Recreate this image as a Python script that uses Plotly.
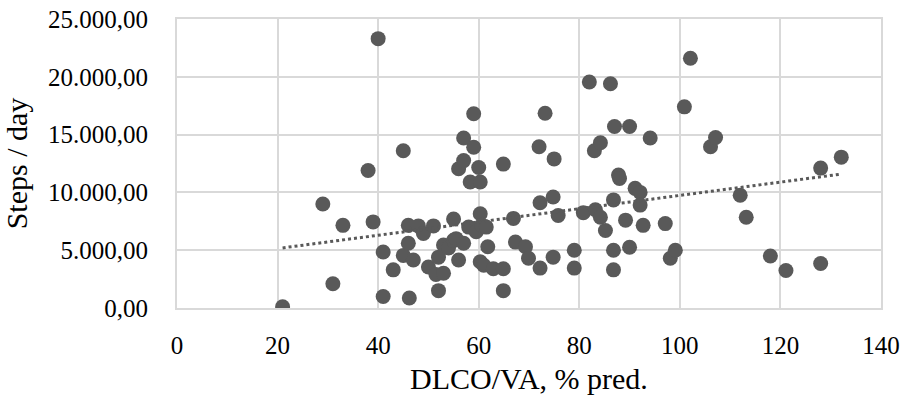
import plotly.graph_objects as go

dlco_va = [21, 29, 31, 33, 38, 39, 40, 41, 41, 43, 45, 45, 46, 46, 46.2, 47, 48,
           49, 50, 51, 52, 51.5, 53, 53, 52, 54, 55, 55, 55.5, 56, 56, 57, 57, 57,
           58, 58.3, 59, 59, 59.5, 60, 60.3, 60.3, 60.6, 61.5, 61.8, 60.3, 61,
           62.9, 64.9, 64.9, 64.9, 66.9, 67.3, 69.3, 69.9, 72.2, 72, 72.2, 73.2,
           74.8, 75, 74.8, 75.8, 79, 79, 80.8, 82, 83, 83.2, 84.2, 84.2, 85.2,
           86.2, 86.8, 87, 86.8, 86.8, 87.8, 88, 89.2, 90, 90, 91.1, 92.1, 92.1,
           92.7, 94.1, 97.1, 98.1, 99.1, 100.9, 102.1, 106.1, 107.1, 112, 113.2,
           118, 121.1, 128, 128, 132.1]
steps_day = [100, 9000, 2100, 7150, 11900, 7450, 23300, 4850, 1000, 3300, 13600,
             4550, 7150, 5600, 870, 4150, 7100, 6450, 3550, 7100, 1500, 2900,
             5450, 3000, 4400, 5200, 7700, 5850, 6000, 4150, 12050, 12750, 14700,
             5600, 7000, 10900, 16800, 13900, 6600, 12150, 10900, 8150, 7150, 7000,
             5300, 4000, 3700, 3400, 3400, 1500, 12450, 7750, 5700, 5300, 4300,
             3450, 13950, 9100, 16850, 9600, 12900, 4400, 8000, 5000, 3450, 8250,
             19550, 13600, 8500, 14300, 7850, 6700, 19400, 9350, 15700, 5000, 3300,
             11500, 11200, 7600, 15700, 5250, 10350, 10000, 8900, 7150, 14700,
             7300, 4300, 5000, 17400, 21600, 13950, 14750, 9750, 7850, 4500, 3250,
             3850, 12100, 13050]

# linear trendline
trend_x = [21, 132]
trend_y = [5200, 11580]

x_ticks = [0, 20, 40, 60, 80, 100, 120, 140]
y_ticks = [0, 5000, 10000, 15000, 20000, 25000]

grey = "#595959"
grid = "#d9d9d9"
font_family = "Liberation Serif, Times New Roman, serif"

fig = go.Figure()
fig.add_trace(go.Scatter(x=dlco_va, y=steps_day, mode="markers",
                         marker=dict(size=15, color=grey, line=dict(width=0)),
                         showlegend=False))
fig.add_trace(go.Scatter(x=trend_x, y=trend_y, mode="lines",
                         line=dict(color=grey, width=3, dash="dot"),
                         showlegend=False))

fig.update_layout(
    width=907, height=401,
    margin=dict(l=177, r=26, t=19, b=93, autoexpand=False),
    paper_bgcolor="white", plot_bgcolor="white",
    separators=",.",
    font=dict(family=font_family, size=25, color="#000000"),
    xaxis=dict(range=[0, 140], tickvals=x_ticks, showgrid=True, gridcolor=grid,
               gridwidth=2, zeroline=False, showline=True, linecolor=grid,
               linewidth=2, mirror=True, ticks="", ticklabelstandoff=14,
               automargin=False,
               title=dict(text="DLCO/VA, % pred.", font=dict(size=30), standoff=10),
               tickfont=dict(size=25)),
    yaxis=dict(range=[0, 25000], tickvals=y_ticks, tickformat=",.2f",
               showgrid=True, gridcolor=grid, gridwidth=2, zeroline=False,
               showline=True, linecolor=grid, linewidth=2, mirror=True,
               ticks="", ticklabelstandoff=22, automargin=False,
               title=dict(text="Steps / day", font=dict(size=30), standoff=12),
               tickfont=dict(size=25)),
)

fig.write_html("out.html")
